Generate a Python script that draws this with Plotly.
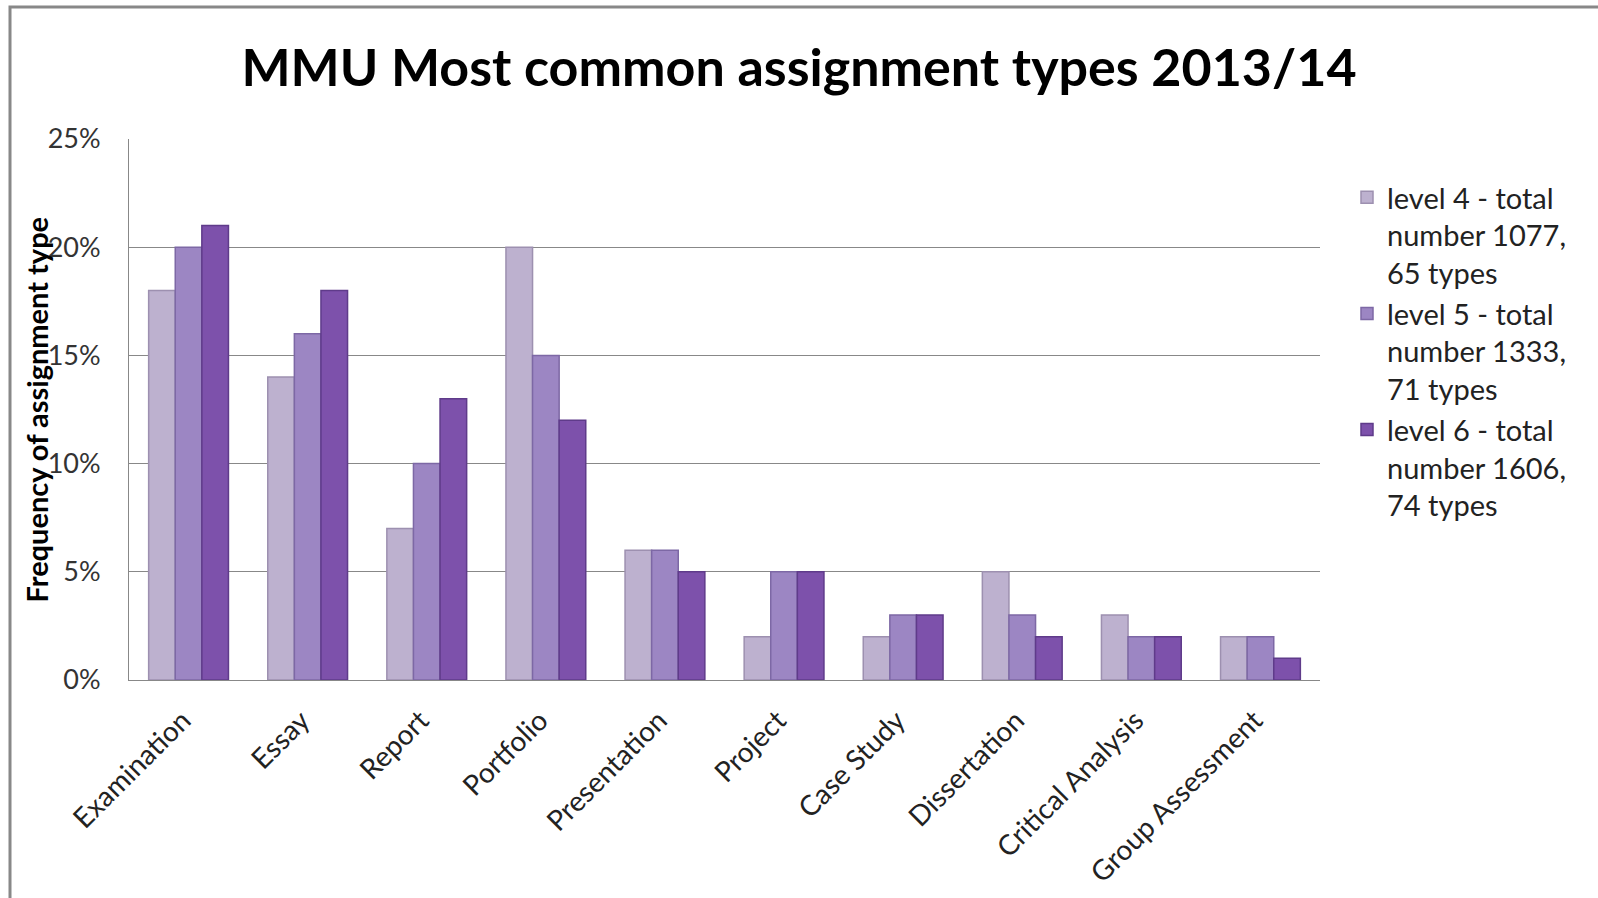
import plotly.graph_objects as go

categories = ["Examination", "Essay", "Report", "Portfolio", "Presentation",
              "Project", "Case Study", "Dissertation", "Critical Analysis", "Group Assessment"]
level4 = [18, 14, 7, 20, 6, 2, 2, 5, 3, 2]
level5 = [20, 16, 10, 15, 6, 5, 3, 3, 2, 2]
level6 = [21, 18, 13, 12, 5, 5, 3, 2, 2, 1]
series_names = ["level 4 - total<br>number 1077,<br>65 types",
                "level 5 - total<br>number 1333,<br>71 types",
                "level 6 - total<br>number 1606,<br>74 types"]
tick_vals = [0, 5, 10, 15, 20, 25]
tick_text = ["0%", "5%", "10%", "15%", "20%", "25%"]

colors = ["#bdb1cf", "#9c86c3", "#7d51ab"]
line_colors = ["#9d90b0", "#7d68a5", "#5f3b8a"]

FONT = "Lato"
fig = go.Figure()
for vals, name, c, lc in zip([level4, level5, level6], series_names, colors, line_colors):
    fig.add_trace(go.Bar(x=categories, y=vals, name=name,
                         marker=dict(color=c, line=dict(color=lc, width=1.5))))

L, R, T, B = 129, 278, 139, 218
W, H = 1598, 898
pw, ph = W - L - R, H - T - B

fig.update_layout(
    width=W, height=H,
    margin=dict(l=L, r=R, t=T, b=B),
    paper_bgcolor="white", plot_bgcolor="white",
    barmode="group", bargap=0.33, bargroupgap=0,
    title=dict(text="<b>MMU Most common assignment types 2013/14</b>",
               x=0.5, xanchor="center", y=1 - 68 / H, yanchor="middle",
               font=dict(family=FONT, size=52, color="black")),
    font=dict(family=FONT, color="#222"),
    legend=dict(x=1 + (1347 - L - pw) / pw, xanchor="left", y=1 - (172 - T) / ph, yanchor="top",
                font=dict(family=FONT, size=29, color="#222"), tracegroupgap=0,
                valign="top", itemwidth=30),
    xaxis=dict(tickangle=-45, tickfont=dict(family=FONT, size=28, color="#222"),
               ticklabelstandoff=12, ticklabelshift=-6,
               showline=True, linecolor="#888", linewidth=1, ticks=""),
    yaxis=dict(range=[0, 25], tickvals=tick_vals, ticktext=tick_text,
               tickfont=dict(family=FONT, size=27, color="#333"),
               ticklabelstandoff=22,
               showgrid=True, gridcolor="#888", gridwidth=1,
               showline=True, linecolor="#888", linewidth=1, ticks=""),
    annotations=[dict(text="<b>Frequency of assignment type</b>", textangle=-90,
                      xref="paper", yref="paper", x=(36 - L) / pw, y=0.5,
                      xanchor="center", yanchor="middle", showarrow=False,
                      font=dict(family=FONT, size=29, color="black"))],
    shapes=[dict(type="rect", xref="paper", yref="paper",
                 x0=(10 - L) / pw, x1=(W + 20 - L) / pw,
                 y0=-(H + 20 - T - ph) / ph, y1=1 + (T - 7) / ph,
                 line=dict(color="#888", width=3), fillcolor="rgba(0,0,0,0)", layer="below")],
)
fig.update_yaxes(automargin=False)
fig.update_xaxes(automargin=False)
fig.write_html("out.html")
